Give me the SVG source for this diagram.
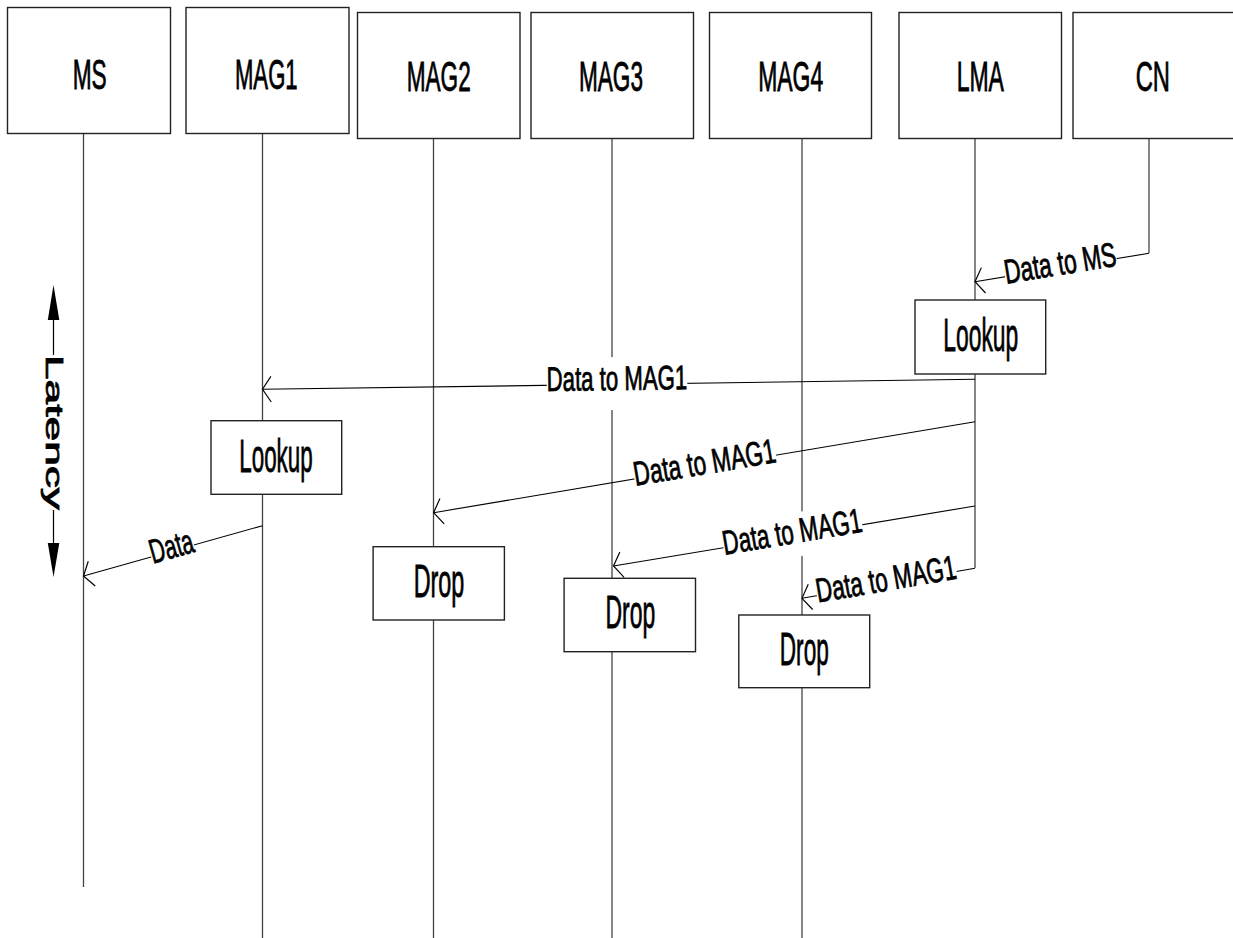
<svg xmlns="http://www.w3.org/2000/svg" width="1233" height="938" viewBox="0 0 1233 938">
  <style>
    .box { fill: #fff; stroke: #222; stroke-width: 1.4; }
    .life { stroke: #444; stroke-width: 1.3; fill: none; }
    .msg { stroke: #000; stroke-width: 1.1; fill: none; marker-end: url(#openArrow); }
    .bg { fill: #fff; stroke: none; }
    text { font-family: "Liberation Sans", Arial, sans-serif; fill: #000; stroke: #000; stroke-width: 0.8; text-anchor: middle; }
    .head { font-size: 42px; }
    .act { font-size: 46px; }
    .lbl { font-size: 34px; }
    .lat { font-size: 24px; }
  </style>
  <defs>
    <marker id="openArrow" markerUnits="userSpaceOnUse" orient="auto" refX="0" refY="0" markerWidth="20" markerHeight="30" viewBox="-10 -14 12 28" overflow="visible">
      <path d="M-8,-12 L0,0 L-8,12" fill="none" stroke="#000" stroke-width="1.1"/>
    </marker>
  </defs>

  <rect width="1233" height="938" fill="#fff"/>

  <!-- lifelines -->
  <g id="lifelines">
    <line class="life" x1="83.5" y1="133" x2="83.5" y2="887"/>
    <line class="life" x1="262.5" y1="133" x2="262.5" y2="938"/>
    <line class="life" x1="433.5" y1="138" x2="433.5" y2="938"/>
    <line class="life" x1="612" y1="138" x2="612" y2="938"/>
    <line class="life" x1="802" y1="138" x2="802" y2="938"/>
    <line class="life" x1="975" y1="138" x2="975" y2="568"/>
    <line class="life" x1="1149" y1="138" x2="1149" y2="253"/>
  </g>

  <!-- messages -->
  <g id="connectors">
    <line class="msg" x1="1149" y1="253.3" x2="975" y2="281.7"/>
    <line class="msg" x1="975" y1="379.3" x2="262.5" y2="389.3"/>
    <line class="msg" x1="975" y1="421.7" x2="433.6" y2="512.7"/>
    <line class="msg" x1="975" y1="506" x2="613.5" y2="566"/>
    <line class="msg" x1="975" y1="568.3" x2="802" y2="598.3"/>
    <line class="msg" x1="262.5" y1="525.7" x2="83.5" y2="576"/>
  </g>

  <!-- message labels -->
  <g id="labels">
    <g transform="translate(1060.8,267.7) rotate(-9.27)">
      <rect class="bg" x="-56.5" y="-24" width="113" height="38"/>
      <text class="lbl" x="0" y="7" textLength="113" lengthAdjust="spacingAndGlyphs">Data to MS</text>
    </g>
    <g transform="translate(617,384) rotate(-0.8)">
      <rect class="bg" x="-70.3" y="-27" width="140.6" height="53"/>
      <text class="lbl" x="0" y="6" textLength="140.6" lengthAdjust="spacingAndGlyphs">Data to MAG1</text>
    </g>
    <g transform="translate(705.2,467) rotate(-9.54)">
      <rect class="bg" x="-71.8" y="-24" width="143.6" height="44"/>
      <text class="lbl" x="0" y="7" textLength="143.6" lengthAdjust="spacingAndGlyphs">Data to MAG1</text>
    </g>
    <g transform="translate(792.9,536.2) rotate(-9.42)">
      <rect class="bg" x="-70.4" y="-23" width="140.8" height="44"/>
      <text class="lbl" x="0" y="7" textLength="140.8" lengthAdjust="spacingAndGlyphs">Data to MAG1</text>
    </g>
    <g transform="translate(886.7,583.6) rotate(-9.84)">
      <rect class="bg" x="-70.9" y="-23" width="141.8" height="42"/>
      <text class="lbl" x="0" y="7" textLength="141.8" lengthAdjust="spacingAndGlyphs">Data to MAG1</text>
    </g>
    <g transform="translate(172.5,550.9) rotate(-15.7)">
      <rect class="bg" x="-22.2" y="-22" width="44.4" height="38"/>
      <text class="lbl" x="0" y="7" textLength="44.4" lengthAdjust="spacingAndGlyphs">Data</text>
    </g>
  </g>

  <!-- participants -->
  <g id="node-MS">
    <rect class="box" x="7.5" y="7.5" width="163" height="126"/>
    <text class="head" x="89.7" y="89" textLength="34" lengthAdjust="spacingAndGlyphs">MS</text>
  </g>
  <g id="node-MAG1">
    <rect class="box" x="186" y="7.5" width="163" height="126"/>
    <text class="head" x="266.3" y="89" textLength="62.7" lengthAdjust="spacingAndGlyphs">MAG1</text>
  </g>
  <g id="node-MAG2">
    <rect class="box" x="357.5" y="12.5" width="162.5" height="126"/>
    <text class="head" x="438.7" y="91.3" textLength="64" lengthAdjust="spacingAndGlyphs">MAG2</text>
  </g>
  <g id="node-MAG3">
    <rect class="box" x="531" y="12.5" width="162.5" height="126"/>
    <text class="head" x="611" y="91.3" textLength="64" lengthAdjust="spacingAndGlyphs">MAG3</text>
  </g>
  <g id="node-MAG4">
    <rect class="box" x="709.5" y="12.5" width="162" height="126"/>
    <text class="head" x="790.7" y="91.3" textLength="65" lengthAdjust="spacingAndGlyphs">MAG4</text>
  </g>
  <g id="node-LMA">
    <rect class="box" x="899" y="12.5" width="162.5" height="126"/>
    <text class="head" x="980.3" y="91.3" textLength="47.3" lengthAdjust="spacingAndGlyphs">LMA</text>
  </g>
  <g id="node-CN">
    <rect class="box" x="1073" y="12.5" width="163" height="126"/>
    <text class="head" x="1152.8" y="91.3" textLength="34.3" lengthAdjust="spacingAndGlyphs">CN</text>
  </g>

  <!-- activity boxes -->
  <g id="node-lookup-LMA">
    <rect class="box" x="915" y="300" width="130.7" height="74"/>
    <text class="act" x="980.8" y="351" textLength="75" lengthAdjust="spacingAndGlyphs">Lookup</text>
  </g>
  <g id="node-lookup-MAG1">
    <rect class="box" x="211" y="420.7" width="130.7" height="73.6"/>
    <text class="act" x="276" y="471.5" textLength="73.4" lengthAdjust="spacingAndGlyphs">Lookup</text>
  </g>
  <g id="node-drop-MAG2">
    <rect class="box" x="373.1" y="546.7" width="131.3" height="73.3"/>
    <text class="act" x="439" y="596.5" textLength="50.6" lengthAdjust="spacingAndGlyphs">Drop</text>
  </g>
  <g id="node-drop-MAG3">
    <rect class="box" x="564.1" y="578.3" width="131.4" height="73.4"/>
    <text class="act" x="630.4" y="628.2" textLength="49.8" lengthAdjust="spacingAndGlyphs">Drop</text>
  </g>
  <g id="node-drop-MAG4">
    <rect class="box" x="738.8" y="615" width="130.9" height="72.7"/>
    <text class="act" x="804.3" y="664.8" textLength="49" lengthAdjust="spacingAndGlyphs">Drop</text>
  </g>

  <!-- latency axis -->
  <g id="latency">
    <line x1="53.5" y1="300" x2="53.5" y2="560" stroke="#000" stroke-width="1.2"/>
    <polygon points="53.5,285 47.8,320 59.3,320" fill="#000"/>
    <polygon points="53.5,577 47.8,543 59.3,543" fill="#000"/>
    <g transform="translate(46.2,432.5) rotate(90)">
      <rect class="bg" x="-77.5" y="-19" width="155" height="25"/>
      <text class="lat" x="0" y="0" stroke-width="0.4" textLength="155" lengthAdjust="spacingAndGlyphs">Latency</text>
    </g>
  </g>
</svg>
